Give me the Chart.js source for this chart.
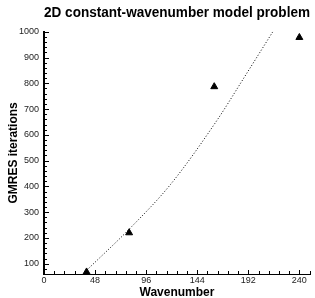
<!DOCTYPE html>
<html>
<head>
<meta charset="utf-8">
<script src="https://cdn.jsdelivr.net/npm/chart.js@4/dist/chart.umd.min.js"></script>
<style>
  html, body { margin: 0; padding: 0; background: #fff; }
  #wrap { width: 315px; height: 298px; }
</style>
</head>
<body>
<div id="wrap"><canvas id="chart"></canvas></div>
<script>
// --------------------------------
// Data
// --------------------------------

const wavenumbers = [40, 80, 160, 240];
const iterations = [68, 220, 787, 978];

// dotted trend line
const fitX = [42, 81, 119, 163, 188, 215];
const fitY = [82, 238, 408, 659, 822, 1000];

const xTicks = [0, 48, 96, 144, 192, 240];
const yTicks = [100, 200, 300, 400, 500, 600, 700, 800, 900, 1000];

const FONT = '"Liberation Sans", Arial, Helvetica, sans-serif';

// --------------------------------
// Inward tick marks
// --------------------------------

function drawInnerTicks(chart) {
    const ctx = chart.ctx;
    const xs = chart.scales.x;
    const ys = chart.scales.y;
    const area = chart.chartArea;

    ctx.save();
    ctx.strokeStyle = '#000';
    ctx.lineWidth = 1;
    ctx.setLineDash([]);
    ctx.beginPath();

    // y: major every 100, minor every 20
    for (let v = 60; v <= 1000; v += 20) {
        const py = Math.round(ys.getPixelForValue(v)) + 0.5;
        const len = v % 100 === 0 ? 5 : 3;
        ctx.moveTo(area.left, py);
        ctx.lineTo(area.left + len, py);
    }
    // x: major every 48, minor every 9.6
    for (let i = 1; i * 9.6 <= 250; i++) {
        const px = Math.round(xs.getPixelForValue(i * 9.6)) + 0.5;
        const len = i % 5 === 0 ? 4 : 3;
        ctx.moveTo(px, area.bottom);
        ctx.lineTo(px, area.bottom - len);
    }
    ctx.stroke();
    ctx.restore();
}

const innerTicks = {
    id: 'innerTicks',
    afterDraw(chart) {
        drawInnerTicks(chart);
    }
};

// --------------------------------
// Chart
// --------------------------------

const scatterChart = new Chart(document.getElementById('chart'), {
    type: 'scatter',
    data: {
        datasets: [{
            label: 'GMRES',
            data: wavenumbers.map((w, i) => ({ x: w, y: iterations[i] })),
            pointStyle: 'triangle',
            pointRadius: 4,
            backgroundColor: '#000',
            borderColor: '#000',
            borderWidth: 1,
            clip: false
        }, {
            label: 'fit',
            type: 'line',
            data: fitX.map((w, i) => ({ x: w, y: fitY[i] })),
            borderColor: '#000',
            borderWidth: 1,
            borderDash: [1, 2],
            pointRadius: 0,
            cubicInterpolationMode: 'monotone',
            fill: false
        }]
    },
    plugins: [innerTicks],
    options: {
        responsive: true,
        maintainAspectRatio: false,
        animation: false,
        layout: { padding: { left: 0, right: 5, top: 0, bottom: 0 } },
        plugins: {
            legend: { display: false },
            tooltip: { enabled: false },
            title: {
                display: true,
                text: '2D constant-wavenumber model problem',
                color: '#000',
                fullSize: false,
                font: { family: FONT, size: 14, weight: 'bold' },
                padding: { top: 5, bottom: 10 }
            }
        },
        scales: {
            x: {
                type: 'linear',
                min: 0,
                max: 250,
                afterBuildTicks: scale => { scale.ticks = xTicks.map(v => ({ value: v })); },
                afterFit: scale => { scale.height = 24; },
                grid: { display: true, drawOnChartArea: false, drawTicks: false },
                border: { display: true, color: '#000', width: 1 },
                ticks: {
                    padding: 1,
                    color: '#222',
                    maxRotation: 0,
                    font: { family: FONT, size: 9 },
                    callback: v => String(v)
                },
                title: {
                    display: true,
                    text: 'Wavenumber',
                    color: '#000',
                    font: { family: FONT, size: 12, weight: 'bold', lineHeight: 1 },
                    padding: { top: 0, bottom: -1 }
                }
            },
            y: {
                type: 'linear',
                min: 60,
                max: 1000,
                afterBuildTicks: scale => { scale.ticks = yTicks.map(v => ({ value: v })); },
                afterFit: scale => { scale.width = 44; },
                grid: { display: true, drawOnChartArea: false, drawTicks: false },
                border: { display: true, color: '#000', width: 2 },
                ticks: {
                    padding: 5,
                    color: '#222',
                    font: { family: FONT, size: 9 },
                    callback: v => String(v)
                },
                title: {
                    display: true,
                    text: 'GMRES iterations',
                    color: '#000',
                    font: { family: FONT, size: 12, weight: 'bold', lineHeight: 1 },
                    padding: { top: 8, bottom: 0 }
                }
            }
        }
    }
});
</script>
</body>
</html>
